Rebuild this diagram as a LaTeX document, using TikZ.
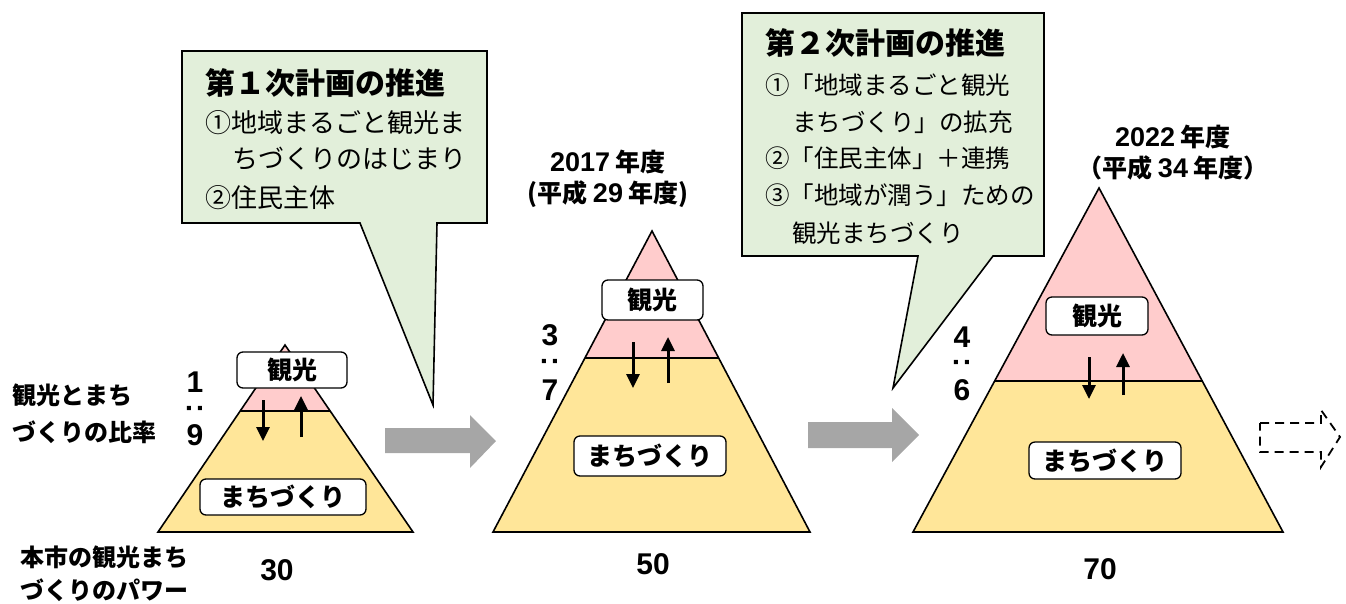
\documentclass[tikz,border=0pt]{standalone}
\usepackage{fontspec}
\setmainfont{Noto Sans CJK JP}
\newfontfamily\numfont{Liberation Sans}
\usetikzlibrary{arrows.meta,calc}
\definecolor{calloutfill}{HTML}{E2EFDA}
\definecolor{pinkfill}{HTML}{FFCCCC}
\definecolor{yellowfill}{HTML}{FFE699}
\definecolor{arrowgray}{HTML}{A6A6A6}
\newcommand{\yrnum}[1]{{\numfont\fontsize{27}{30}\selectfont #1}}
\tikzset{
  callout/.style={draw=black, fill=calloutfill, line width=1.6pt, line join=miter},
  tri/.style={draw=black, line width=1.6pt, line join=miter},
  divline/.style={draw=black, line width=1.3pt},
  labelbox/.style={draw=black, fill=white, rounded corners=6pt, line width=1.3pt, inner sep=0pt,
    font=\bfseries\fontsize{25}{28}\selectfont},
  titleline/.style={anchor=west, inner sep=0pt, text height=26pt, text depth=4pt,
    font=\bfseries\fontsize{30}{34}\selectfont},
  bodyline/.style={anchor=west, inner sep=0pt, text height=23pt, text depth=3pt,
    font=\fontsize{26}{30}\selectfont},
  bodylineb/.style={anchor=west, inner sep=0pt, text height=21.5pt, text depth=3pt,
    font=\fontsize{24.5}{28}\selectfont},
  sidelabel/.style={anchor=west, inner sep=0pt, text height=21pt, text depth=3pt,
    font=\bfseries\fontsize{24}{28}\selectfont},
  ratio/.style={inner sep=0pt, font=\numfont\bfseries\fontsize{30}{34}\selectfont},
  yearlabel/.style={inner sep=0pt, text height=22pt, text depth=3pt,
    font=\bfseries\fontsize{25}{28}\selectfont},
  powernum/.style={inner sep=0pt, font=\numfont\bfseries\fontsize{30}{34}\selectfont},
  flowarrow/.style={-{Triangle[width=13pt,length=14pt]}, line width=3pt},
  grayarrow/.style={fill=arrowgray, draw=none},
  dasharrow/.style={draw=black, line width=1.8pt, dash pattern=on 9pt off 6pt}
}
\begin{document}
\begin{tikzpicture}[x=1pt,y=-1pt]
\useasboundingbox (0,0) rectangle (1346,603);

% ---------------- callout 1 ----------------
\draw[callout] (182,51) -- (487,51) -- (487,223) -- (437,223) -- (433,405) -- (360,223) -- (182,223) -- cycle;
\node[titleline] (c1t) at (205,83) {第１次計画の推進};
\node[bodyline] (c1a) at (205,122) {①地域まるごと観光ま};
\node[bodyline] (c1b) at (232,158) {ちづくりのはじまり};
\node[bodyline] (c1c) at (205,197) {②住民主体};

% ---------------- callout 2 ----------------
\draw[callout] (742,13) -- (1044,13) -- (1044,256) -- (993,256) -- (893,388) -- (918,256) -- (742,256) -- cycle;
\node[titleline] (c2t) at (765,43) {第２次計画の推進};
\node[bodylineb] (c2a) at (765,85) {①「地域まるごと観光};
\node[bodylineb] (c2b) at (792,122) {まちづくり」の拡充};
\node[bodylineb] (c2c) at (765,158) {②「住民主体」＋連携};
\node[bodylineb] (c2d) at (765,195) {③「地域が潤う」ための};
\node[bodylineb] (c2e) at (792,233) {観光まちづくり};

% ---------------- triangle 1 ----------------
\coordinate (t1a) at (285,345);
\coordinate (t1l) at (158,532);
\coordinate (t1r) at (413,532);
\coordinate (t1dl) at ($(t1a)!0.353!(t1l)$);
\coordinate (t1dr) at ($(t1a)!0.353!(t1r)$);
\fill[pinkfill] (t1a) -- (t1dl) -- (t1dr) -- cycle;
\fill[yellowfill] (t1dl) -- (t1l) -- (t1r) -- (t1dr) -- cycle;
\draw[divline] (t1dl) -- (t1dr);
\draw[tri] (t1a) -- (t1l) -- (t1r) -- cycle;
\node[labelbox, minimum width=110pt, minimum height=36pt] (t1k) at (292,370) {観光};
\node[labelbox, minimum width=166pt, minimum height=36pt] (t1m) at (283,497) {まちづくり};
\coordinate (t1d1) at (263,400); \coordinate (t1d2) at (263,441);
\coordinate (t1u1) at (301,437); \coordinate (t1u2) at (301,396);
\draw[flowarrow] (t1d1) -- (t1d2);
\draw[flowarrow] (t1u1) -- (t1u2);
\node[ratio] (r1a) at (195,382) {1};
\node[ratio, rotate=90] (r1b) at (195,408) {:};
\node[ratio] (r1c) at (195,435) {9};
\node[powernum] (p1) at (277,570) {30};

% ---------------- triangle 2 ----------------
\coordinate (t2a) at (652,231);
\coordinate (t2l) at (493,532);
\coordinate (t2r) at (810,532);
\coordinate (t2dl) at ($(t2a)!0.422!(t2l)$);
\coordinate (t2dr) at ($(t2a)!0.422!(t2r)$);
\fill[pinkfill] (t2a) -- (t2dl) -- (t2dr) -- cycle;
\fill[yellowfill] (t2dl) -- (t2l) -- (t2r) -- (t2dr) -- cycle;
\draw[divline] (t2dl) -- (t2dr);
\draw[tri] (t2a) -- (t2l) -- (t2r) -- cycle;
\node[labelbox, minimum width=101pt, minimum height=40pt] (t2k) at (652.5,300) {観光};
\node[labelbox, minimum width=152pt, minimum height=40pt] (t2m) at (650,456) {まちづくり};
\coordinate (t2d1) at (633,342); \coordinate (t2d2) at (633,388);
\coordinate (t2u1) at (668,383); \coordinate (t2u2) at (668,337);
\draw[flowarrow] (t2d1) -- (t2d2);
\draw[flowarrow] (t2u1) -- (t2u2);
\node[ratio] (r2a) at (550,335) {3};
\node[ratio, rotate=90] (r2b) at (550,361) {:};
\node[ratio] (r2c) at (550,390) {7};
\node[yearlabel] (y2a) at (608,162) {\yrnum{2017} 年度};
\node[yearlabel] (y2b) at (608,193) {(平成 \yrnum{29} 年度)};
\node[powernum] (p2) at (653,564) {50};

% ---------------- triangle 3 ----------------
\coordinate (t3a) at (1099,188);
\coordinate (t3l) at (913,532);
\coordinate (t3r) at (1283,532);
\coordinate (t3dl) at ($(t3a)!0.561!(t3l)$);
\coordinate (t3dr) at ($(t3a)!0.561!(t3r)$);
\fill[pinkfill] (t3a) -- (t3dl) -- (t3dr) -- cycle;
\fill[yellowfill] (t3dl) -- (t3l) -- (t3r) -- (t3dr) -- cycle;
\draw[divline] (t3dl) -- (t3dr);
\draw[tri] (t3a) -- (t3l) -- (t3r) -- cycle;
\node[labelbox, minimum width=102pt, minimum height=38pt] (t3k) at (1097,316) {観光};
\node[labelbox, minimum width=152pt, minimum height=37pt] (t3m) at (1105,460.5) {まちづくり};
\coordinate (t3d1) at (1089,357); \coordinate (t3d2) at (1089,399);
\coordinate (t3u1) at (1123,395); \coordinate (t3u2) at (1123,353);
\draw[flowarrow] (t3d1) -- (t3d2);
\draw[flowarrow] (t3u1) -- (t3u2);
\node[ratio] (r3a) at (962,337) {4};
\node[ratio, rotate=90] (r3b) at (962,362) {:};
\node[ratio] (r3c) at (962,390) {6};
\node[yearlabel] (y3a) at (1173,137) {\yrnum{2022} 年度};
\node[yearlabel] (y3b) at (1173,168) {（平成 \yrnum{34} 年度）};
\node[powernum] (p3) at (1100,569) {70};

% ---------------- side labels ----------------
\node[sidelabel] (s1) at (12,395) {観光とまち};
\node[sidelabel] (s2) at (12,432) {づくりの比率};
\node[sidelabel] (s3) at (20,557) {本市の観光まち};
\node[sidelabel] (s4) at (20,590) {づくりのパワー};

% ---------------- gray arrows ----------------
\fill[grayarrow] (385,428) -- (470,428) -- (470,415) -- (496,441) -- (470,468) -- (470,453) -- (385,453) -- cycle;
\fill[grayarrow] (808,422) -- (892,422) -- (892,408) -- (919,435) -- (892,462) -- (892,448) -- (808,448) -- cycle;

% ---------------- dashed arrow ----------------
\draw[dasharrow] (1260,423) -- (1321,423) -- (1321,410) -- (1340,437) -- (1321,467) -- (1321,452) -- (1260,452) -- cycle;
\end{tikzpicture}
\end{document}
